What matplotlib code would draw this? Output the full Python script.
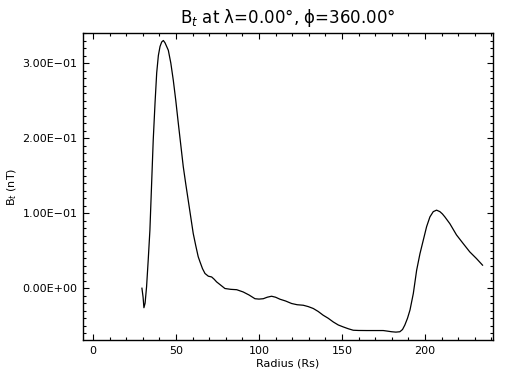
import matplotlib
matplotlib.use("Agg")
import matplotlib.pyplot as plt
from matplotlib.ticker import MultipleLocator, FuncFormatter

# radius (Rs) and B_t (nT)
radius = [29.5, 30.2, 30.7, 31.4, 32.3, 33.3, 34.3, 35.3, 36.3, 37.4, 38.4, 39.4,
          40.4, 41.4, 42.4, 43.4, 44.4, 45.4, 46.9, 48.4, 49.9, 51.4, 52.9, 54.4,
          55.9, 57.4, 58.9, 60.4, 61.9, 63.4, 64.5, 66.0, 67.5, 69.5, 71.5, 73.0,
          74.5, 77.0, 79.5, 83.0, 86.6, 90.5, 94.0, 97.6, 100.0, 102.6, 105.0,
          107.6, 110.0, 112.7, 116.0, 119.7, 123.0, 126.7, 129.7, 132.7, 135.7,
          138.7, 141.7, 144.8, 147.8, 150.8, 153.8, 156.8, 160.0, 165.0, 170.0,
          174.9, 177.5, 179.9, 182.5, 184.9, 186.5, 187.9, 189.5, 191.0, 193.0,
          195.0, 197.0, 199.0, 201.0, 203.0, 205.0, 207.0, 209.0, 210.5, 212.0,
          215.0, 219.0, 223.0, 227.0, 231.0, 234.7]
bt = [0.000, -0.012, -0.026, -0.020, 0.002, 0.038, 0.077, 0.137, 0.197, 0.247,
      0.287, 0.310, 0.322, 0.328, 0.330, 0.327, 0.322, 0.317, 0.300, 0.277,
      0.250, 0.220, 0.191, 0.162, 0.139, 0.117, 0.095, 0.073, 0.057, 0.042,
      0.035, 0.026, 0.0196, 0.016, 0.015, 0.012, 0.0084, 0.004, -0.0004,
      -0.0015, -0.002, -0.005, -0.009, -0.014, -0.0145, -0.014, -0.012,
      -0.0107, -0.012, -0.0147, -0.017, -0.0204, -0.022, -0.0227, -0.0245,
      -0.027, -0.031, -0.036, -0.040, -0.045, -0.049, -0.0516, -0.054,
      -0.056, -0.0563, -0.0564, -0.0564, -0.0564, -0.0572, -0.058, -0.0585,
      -0.058, -0.055, -0.049, -0.040, -0.029, -0.007, 0.024, 0.046, 0.064,
      0.082, 0.095, 0.102, 0.104, 0.102, 0.099, 0.095, 0.086, 0.071, 0.0596,
      0.0484, 0.0396, 0.0307]

x_ticks = [0, 50, 100, 150, 200]
y_ticks = [0.0, 0.1, 0.2, 0.3]


def sci_fmt(v, pos):
    s = "%.2E" % v
    return s.replace("-", "\u2212")


fig = plt.figure(figsize=(5.12, 3.84), dpi=100)
ax = fig.add_axes([83 / 512, 44 / 384, 410 / 512, 307 / 384])

ax.plot(radius, bt, color="black", linewidth=0.9)

ax.set_xlim(-6, 241)
ax.set_ylim(-0.069, 0.34)
ax.set_xticks(x_ticks)
ax.set_yticks(y_ticks)
ax.xaxis.set_minor_locator(MultipleLocator(10))
ax.yaxis.set_minor_locator(MultipleLocator(0.01))
ax.yaxis.set_major_formatter(FuncFormatter(sci_fmt))

ax.tick_params(which="both", direction="in", top=True, right=True,
               labelsize=8, width=0.8, colors="black", pad=4)
ax.tick_params(which="major", length=4.5)
ax.tick_params(which="minor", length=2.5)
for sp in ax.spines.values():
    sp.set_linewidth(1.0)

ax.set_title("B$_t$ at λ=0.00°, ϕ=360.00°", fontsize=12, pad=7)
ax.set_xlabel("Radius (Rs)", fontsize=8, labelpad=2)
ax.set_ylabel("B$_t$ (nT)", fontsize=8)
ax.yaxis.set_label_coords(-0.155, 0.5)

fig.savefig("out.png", dpi=100, facecolor="white")
